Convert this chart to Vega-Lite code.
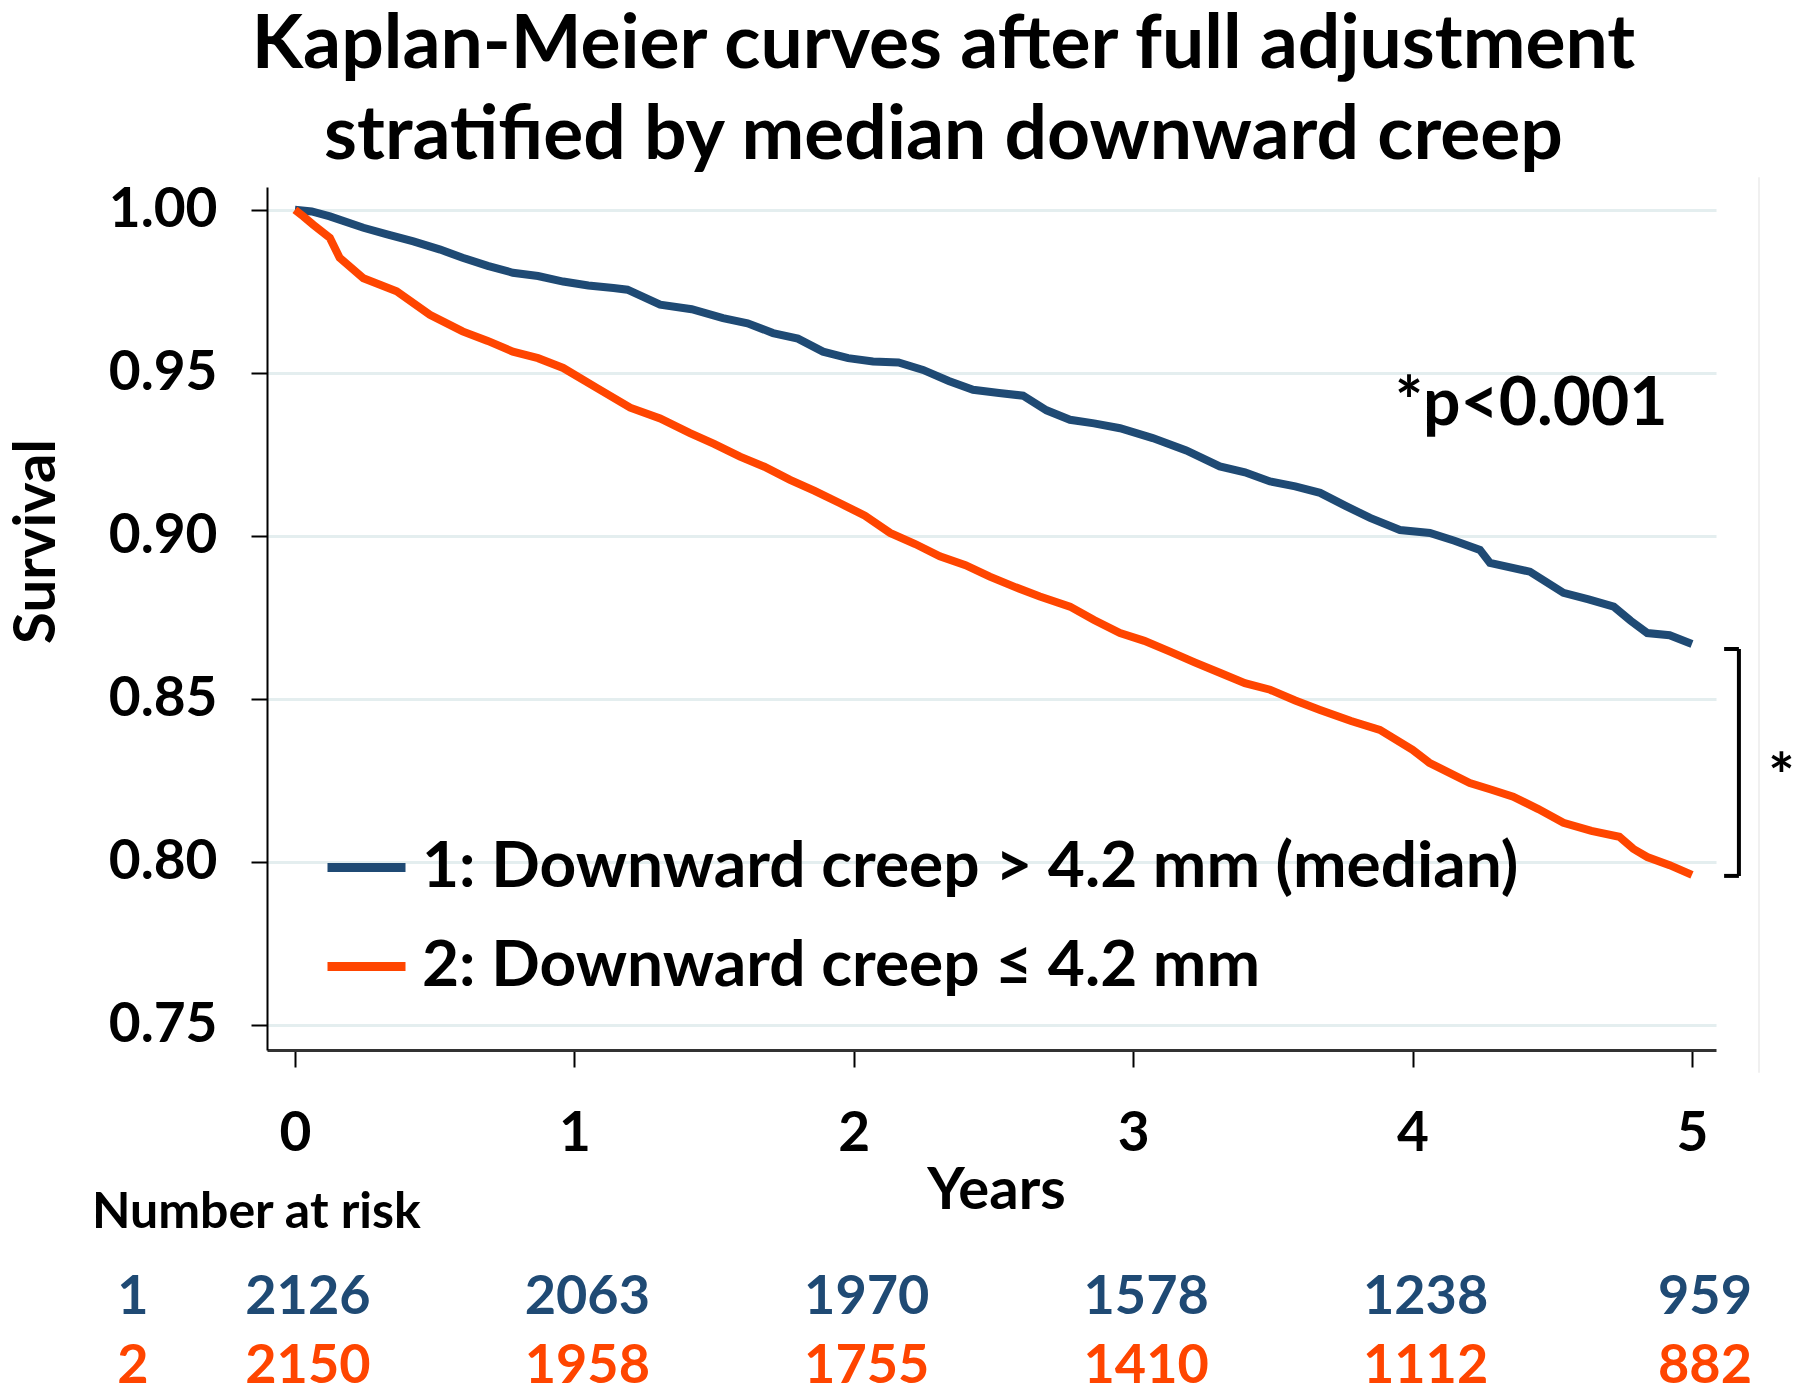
{
  "$schema": "https://vega.github.io/schema/vega-lite/v6.json",
  "width": 1449,
  "height": 863,
  "autosize": {"type": "none"},
  "padding": {"left": 267, "top": 187, "right": 84, "bottom": 348},
  "background": "white",
  "config": {"view": {"stroke": null}, "font": "Lato"},
  "title": {
    "text": ["Kaplan-Meier curves after full adjustment", "stratified by median downward creep"],
    "fontSize": 75, "font": "Lato", "fontWeight": "bold", "color": "black",
    "lineHeight": 91, "anchor": "middle", "dx": -48, "dy": 88, "offset": 14, "baseline": "bottom"
  },
  "datasets": {
    "km": [
      {"Years": 0, "surv": 1.0, "group": "1: Downward creep > 4.2 mm (median)"},
      {"Years": 0.06, "surv": 0.9995, "group": "1: Downward creep > 4.2 mm (median)"},
      {"Years": 0.125, "surv": 0.998, "group": "1: Downward creep > 4.2 mm (median)"},
      {"Years": 0.245, "surv": 0.9945, "group": "1: Downward creep > 4.2 mm (median)"},
      {"Years": 0.33, "surv": 0.9925, "group": "1: Downward creep > 4.2 mm (median)"},
      {"Years": 0.424, "surv": 0.9903, "group": "1: Downward creep > 4.2 mm (median)"},
      {"Years": 0.52, "surv": 0.9878, "group": "1: Downward creep > 4.2 mm (median)"},
      {"Years": 0.6, "surv": 0.9853, "group": "1: Downward creep > 4.2 mm (median)"},
      {"Years": 0.69, "surv": 0.9828, "group": "1: Downward creep > 4.2 mm (median)"},
      {"Years": 0.78, "surv": 0.9807, "group": "1: Downward creep > 4.2 mm (median)"},
      {"Years": 0.87, "surv": 0.9797, "group": "1: Downward creep > 4.2 mm (median)"},
      {"Years": 0.96, "surv": 0.978, "group": "1: Downward creep > 4.2 mm (median)"},
      {"Years": 1.05, "surv": 0.9768, "group": "1: Downward creep > 4.2 mm (median)"},
      {"Years": 1.14, "surv": 0.976, "group": "1: Downward creep > 4.2 mm (median)"},
      {"Years": 1.19, "surv": 0.9755, "group": "1: Downward creep > 4.2 mm (median)"},
      {"Years": 1.307, "surv": 0.9709, "group": "1: Downward creep > 4.2 mm (median)"},
      {"Years": 1.42, "surv": 0.9695, "group": "1: Downward creep > 4.2 mm (median)"},
      {"Years": 1.532, "surv": 0.9668, "group": "1: Downward creep > 4.2 mm (median)"},
      {"Years": 1.62, "surv": 0.9652, "group": "1: Downward creep > 4.2 mm (median)"},
      {"Years": 1.711, "surv": 0.9622, "group": "1: Downward creep > 4.2 mm (median)"},
      {"Years": 1.8, "surv": 0.9605, "group": "1: Downward creep > 4.2 mm (median)"},
      {"Years": 1.89, "surv": 0.9565, "group": "1: Downward creep > 4.2 mm (median)"},
      {"Years": 1.98, "surv": 0.9545, "group": "1: Downward creep > 4.2 mm (median)"},
      {"Years": 2.069, "surv": 0.9535, "group": "1: Downward creep > 4.2 mm (median)"},
      {"Years": 2.16, "surv": 0.9532, "group": "1: Downward creep > 4.2 mm (median)"},
      {"Years": 2.248, "surv": 0.9509, "group": "1: Downward creep > 4.2 mm (median)"},
      {"Years": 2.34, "surv": 0.9475, "group": "1: Downward creep > 4.2 mm (median)"},
      {"Years": 2.427, "surv": 0.9448, "group": "1: Downward creep > 4.2 mm (median)"},
      {"Years": 2.52, "surv": 0.9438, "group": "1: Downward creep > 4.2 mm (median)"},
      {"Years": 2.606, "surv": 0.943, "group": "1: Downward creep > 4.2 mm (median)"},
      {"Years": 2.69, "surv": 0.9385, "group": "1: Downward creep > 4.2 mm (median)"},
      {"Years": 2.774, "surv": 0.9356, "group": "1: Downward creep > 4.2 mm (median)"},
      {"Years": 2.86, "surv": 0.9345, "group": "1: Downward creep > 4.2 mm (median)"},
      {"Years": 2.953, "surv": 0.933, "group": "1: Downward creep > 4.2 mm (median)"},
      {"Years": 3.07, "surv": 0.93, "group": "1: Downward creep > 4.2 mm (median)"},
      {"Years": 3.19, "surv": 0.9262, "group": "1: Downward creep > 4.2 mm (median)"},
      {"Years": 3.31, "surv": 0.9213, "group": "1: Downward creep > 4.2 mm (median)"},
      {"Years": 3.4, "surv": 0.9195, "group": "1: Downward creep > 4.2 mm (median)"},
      {"Years": 3.49, "surv": 0.9167, "group": "1: Downward creep > 4.2 mm (median)"},
      {"Years": 3.58, "surv": 0.9152, "group": "1: Downward creep > 4.2 mm (median)"},
      {"Years": 3.669, "surv": 0.9132, "group": "1: Downward creep > 4.2 mm (median)"},
      {"Years": 3.76, "surv": 0.9092, "group": "1: Downward creep > 4.2 mm (median)"},
      {"Years": 3.848, "surv": 0.9055, "group": "1: Downward creep > 4.2 mm (median)"},
      {"Years": 3.955, "surv": 0.9018, "group": "1: Downward creep > 4.2 mm (median)"},
      {"Years": 4.062, "surv": 0.9009, "group": "1: Downward creep > 4.2 mm (median)"},
      {"Years": 4.15, "surv": 0.8985, "group": "1: Downward creep > 4.2 mm (median)"},
      {"Years": 4.241, "surv": 0.8957, "group": "1: Downward creep > 4.2 mm (median)"},
      {"Years": 4.277, "surv": 0.8917, "group": "1: Downward creep > 4.2 mm (median)"},
      {"Years": 4.42, "surv": 0.889, "group": "1: Downward creep > 4.2 mm (median)"},
      {"Years": 4.54, "surv": 0.8825, "group": "1: Downward creep > 4.2 mm (median)"},
      {"Years": 4.63, "surv": 0.8805, "group": "1: Downward creep > 4.2 mm (median)"},
      {"Years": 4.72, "surv": 0.8783, "group": "1: Downward creep > 4.2 mm (median)"},
      {"Years": 4.78, "surv": 0.874, "group": "1: Downward creep > 4.2 mm (median)"},
      {"Years": 4.84, "surv": 0.8702, "group": "1: Downward creep > 4.2 mm (median)"},
      {"Years": 4.92, "surv": 0.8695, "group": "1: Downward creep > 4.2 mm (median)"},
      {"Years": 5.0, "surv": 0.8668, "group": "1: Downward creep > 4.2 mm (median)"},
      {"Years": 0, "surv": 1.0, "group": "2: Downward creep ≤ 4.2 mm"},
      {"Years": 0.03, "surv": 0.998, "group": "2: Downward creep ≤ 4.2 mm"},
      {"Years": 0.066, "surv": 0.9954, "group": "2: Downward creep ≤ 4.2 mm"},
      {"Years": 0.125, "surv": 0.9914, "group": "2: Downward creep ≤ 4.2 mm"},
      {"Years": 0.16, "surv": 0.9853, "group": "2: Downward creep ≤ 4.2 mm"},
      {"Years": 0.245, "surv": 0.979, "group": "2: Downward creep ≤ 4.2 mm"},
      {"Years": 0.364, "surv": 0.975, "group": "2: Downward creep ≤ 4.2 mm"},
      {"Years": 0.483, "surv": 0.9678, "group": "2: Downward creep ≤ 4.2 mm"},
      {"Years": 0.6, "surv": 0.9627, "group": "2: Downward creep ≤ 4.2 mm"},
      {"Years": 0.69, "surv": 0.9598, "group": "2: Downward creep ≤ 4.2 mm"},
      {"Years": 0.78, "surv": 0.9565, "group": "2: Downward creep ≤ 4.2 mm"},
      {"Years": 0.87, "surv": 0.9545, "group": "2: Downward creep ≤ 4.2 mm"},
      {"Years": 0.96, "surv": 0.9515, "group": "2: Downward creep ≤ 4.2 mm"},
      {"Years": 1.08, "surv": 0.9454, "group": "2: Downward creep ≤ 4.2 mm"},
      {"Years": 1.2, "surv": 0.9393, "group": "2: Downward creep ≤ 4.2 mm"},
      {"Years": 1.307, "surv": 0.936, "group": "2: Downward creep ≤ 4.2 mm"},
      {"Years": 1.414, "surv": 0.9315, "group": "2: Downward creep ≤ 4.2 mm"},
      {"Years": 1.5, "surv": 0.9282, "group": "2: Downward creep ≤ 4.2 mm"},
      {"Years": 1.593, "surv": 0.9243, "group": "2: Downward creep ≤ 4.2 mm"},
      {"Years": 1.68, "surv": 0.9212, "group": "2: Downward creep ≤ 4.2 mm"},
      {"Years": 1.772, "surv": 0.9172, "group": "2: Downward creep ≤ 4.2 mm"},
      {"Years": 1.86, "surv": 0.9138, "group": "2: Downward creep ≤ 4.2 mm"},
      {"Years": 1.951, "surv": 0.91, "group": "2: Downward creep ≤ 4.2 mm"},
      {"Years": 2.04, "surv": 0.9062, "group": "2: Downward creep ≤ 4.2 mm"},
      {"Years": 2.13, "surv": 0.9009, "group": "2: Downward creep ≤ 4.2 mm"},
      {"Years": 2.22, "surv": 0.8975, "group": "2: Downward creep ≤ 4.2 mm"},
      {"Years": 2.308, "surv": 0.8937, "group": "2: Downward creep ≤ 4.2 mm"},
      {"Years": 2.4, "surv": 0.891, "group": "2: Downward creep ≤ 4.2 mm"},
      {"Years": 2.487, "surv": 0.8875, "group": "2: Downward creep ≤ 4.2 mm"},
      {"Years": 2.58, "surv": 0.8842, "group": "2: Downward creep ≤ 4.2 mm"},
      {"Years": 2.666, "surv": 0.8814, "group": "2: Downward creep ≤ 4.2 mm"},
      {"Years": 2.774, "surv": 0.8783, "group": "2: Downward creep ≤ 4.2 mm"},
      {"Years": 2.86, "surv": 0.8742, "group": "2: Downward creep ≤ 4.2 mm"},
      {"Years": 2.953, "surv": 0.8702, "group": "2: Downward creep ≤ 4.2 mm"},
      {"Years": 3.04, "surv": 0.8678, "group": "2: Downward creep ≤ 4.2 mm"},
      {"Years": 3.132, "surv": 0.8645, "group": "2: Downward creep ≤ 4.2 mm"},
      {"Years": 3.22, "surv": 0.8612, "group": "2: Downward creep ≤ 4.2 mm"},
      {"Years": 3.31, "surv": 0.858, "group": "2: Downward creep ≤ 4.2 mm"},
      {"Years": 3.4, "surv": 0.8548, "group": "2: Downward creep ≤ 4.2 mm"},
      {"Years": 3.49, "surv": 0.8528, "group": "2: Downward creep ≤ 4.2 mm"},
      {"Years": 3.58, "surv": 0.8495, "group": "2: Downward creep ≤ 4.2 mm"},
      {"Years": 3.669, "surv": 0.8466, "group": "2: Downward creep ≤ 4.2 mm"},
      {"Years": 3.78, "surv": 0.8432, "group": "2: Downward creep ≤ 4.2 mm"},
      {"Years": 3.883, "surv": 0.8405, "group": "2: Downward creep ≤ 4.2 mm"},
      {"Years": 4.0, "surv": 0.8344, "group": "2: Downward creep ≤ 4.2 mm"},
      {"Years": 4.06, "surv": 0.8304, "group": "2: Downward creep ≤ 4.2 mm"},
      {"Years": 4.205, "surv": 0.8242, "group": "2: Downward creep ≤ 4.2 mm"},
      {"Years": 4.28, "surv": 0.8222, "group": "2: Downward creep ≤ 4.2 mm"},
      {"Years": 4.36, "surv": 0.82, "group": "2: Downward creep ≤ 4.2 mm"},
      {"Years": 4.45, "surv": 0.8162, "group": "2: Downward creep ≤ 4.2 mm"},
      {"Years": 4.54, "surv": 0.812, "group": "2: Downward creep ≤ 4.2 mm"},
      {"Years": 4.64, "surv": 0.8095, "group": "2: Downward creep ≤ 4.2 mm"},
      {"Years": 4.74, "surv": 0.8077, "group": "2: Downward creep ≤ 4.2 mm"},
      {"Years": 4.79, "surv": 0.804, "group": "2: Downward creep ≤ 4.2 mm"},
      {"Years": 4.84, "surv": 0.8015, "group": "2: Downward creep ≤ 4.2 mm"},
      {"Years": 4.92, "surv": 0.799, "group": "2: Downward creep ≤ 4.2 mm"},
      {"Years": 5.0, "surv": 0.796, "group": "2: Downward creep ≤ 4.2 mm"}
    ],
    "risk": [
      {"group": "1", "Years": 0, "n": "2126"},
      {"group": "1", "Years": 1, "n": "2063"},
      {"group": "1", "Years": 2, "n": "1970"},
      {"group": "1", "Years": 3, "n": "1578"},
      {"group": "1", "Years": 4, "n": "1238"},
      {"group": "1", "Years": 5, "n": "959"},
      {"group": "2", "Years": 0, "n": "2150"},
      {"group": "2", "Years": 1, "n": "1958"},
      {"group": "2", "Years": 2, "n": "1755"},
      {"group": "2", "Years": 3, "n": "1410"},
      {"group": "2", "Years": 4, "n": "1112"},
      {"group": "2", "Years": 5, "n": "882"}
    ]
  },
  "layer": [
    {
      "data": {"name": "km"},
      "mark": {"type": "line", "strokeWidth": 8, "clip": false},
      "encoding": {
        "x": {
          "field": "Years", "type": "quantitative", "title": "Years",
          "scale": {"domain": [-0.1, 5.086], "nice": false, "zero": false},
          "axis": {
            "values": [0, 1, 2, 3, 4, 5], "format": "d",
            "labelFont": "Lato", "labelFontSize": 55, "labelFontWeight": "bold", "labelColor": "black",
            "labelPadding": 40, "tickSize": 17, "tickColor": "black", "tickWidth": 2,
            "domainColor": "#333333", "domainWidth": 3, "grid": false,
            "titleFont": "Lato", "titleFontSize": 58, "titleFontWeight": "bold", "titleColor": "black",
            "titleX": 729, "titleY": 158, "titleBaseline": "alphabetic", "titleAlign": "center"
          }
        },
        "y": {
          "field": "surv", "type": "quantitative", "title": "Survival",
          "scale": {"domain": [0.7423, 1.007], "nice": false, "zero": false},
          "axis": {
            "values": [0.75, 0.8, 0.85, 0.9, 0.95, 1.0], "format": ".2f",
            "labelFont": "Lato", "labelFontSize": 55, "labelFontWeight": "bold", "labelColor": "black",
            "labelPadding": 34, "tickSize": 16, "tickColor": "black", "tickWidth": 2,
            "domainColor": "black", "domainWidth": 2,
            "grid": true, "gridColor": "#e4eeef", "gridWidth": 3,
            "titleFont": "Lato", "titleFontSize": 58, "titleFontWeight": "bold", "titleColor": "black",
            "titleAngle": -90, "titleX": -230, "titleY": 354, "titleAlign": "center", "titleBaseline": "middle"
          }
        },
        "color": {
          "field": "group", "type": "nominal",
          "scale": {"domain": ["1: Downward creep > 4.2 mm (median)", "2: Downward creep ≤ 4.2 mm"], "range": ["#1f4a74", "#ff4500"]},
          "legend": {
            "orient": "none", "legendX": 56, "legendY": 637, "title": null,
            "symbolType": "stroke", "symbolSize": 6084, "symbolStrokeWidth": 9,
            "labelFont": "Lato", "labelFontSize": 64, "labelFontWeight": "bold", "labelColor": "black",
            "labelOffset": 12, "rowPadding": 23, "labelLimit": 0, "padding": 0
          }
        }
      }
    },
    {
      "data": {"values": [{}]},
      "mark": {"type": "text", "font": "Lato", "fontSize": 66, "fontWeight": "bold", "color": "black", "align": "left", "baseline": "alphabetic"},
      "encoding": {"x": {"datum": 3.937}, "y": {"datum": 0.934}, "text": {"value": "*p<0.001"}}
    },
    {
      "data": {"values": [{}]},
      "mark": {"type": "rule", "color": "black", "strokeWidth": 4, "clip": false},
      "encoding": {"x": {"datum": 5.168}, "y": {"datum": 0.8653}, "y2": {"datum": 0.7957}}
    },
    {
      "data": {"values": [{}]},
      "mark": {"type": "rule", "color": "black", "strokeWidth": 4, "clip": false},
      "encoding": {"x": {"datum": 5.115}, "x2": {"datum": 5.168}, "y": {"datum": 0.8653}}
    },
    {
      "data": {"values": [{}]},
      "mark": {"type": "rule", "color": "black", "strokeWidth": 4, "clip": false},
      "encoding": {"x": {"datum": 5.115}, "x2": {"datum": 5.168}, "y": {"datum": 0.7957}}
    },
    {
      "data": {"values": [{}]},
      "mark": {"type": "text", "font": "Lato", "fontSize": 62, "fontWeight": "bold", "color": "black", "align": "center", "baseline": "alphabetic"},
      "encoding": {"x": {"datum": 5.32}, "y": {"datum": 0.8195}, "text": {"value": "*"}}
    },
    {
      "data": {"values": [{}]},
      "mark": {"type": "rule", "color": "#f0f0f0", "strokeWidth": 2, "clip": false},
      "encoding": {"x": {"datum": 5.24}, "y": {"datum": 1.01}, "y2": {"datum": 0.7353}}
    },
    {
      "data": {"values": [{}]},
      "mark": {"type": "text", "font": "Lato", "fontSize": 50, "fontWeight": "bold", "color": "black", "align": "left", "baseline": "alphabetic"},
      "encoding": {"x": {"datum": -0.7266}, "y": {"datum": 0.6877}, "text": {"value": "Number at risk"}}
    },
    {
      "data": {"values": [{}]},
      "mark": {"type": "text", "font": "Lato", "fontSize": 54, "fontWeight": "bold", "color": "#1f4a74", "align": "center", "baseline": "alphabetic"},
      "encoding": {"x": {"datum": -0.58}, "y": {"datum": 0.6613}, "text": {"value": "1"}}
    },
    {
      "data": {"values": [{}]},
      "mark": {"type": "text", "font": "Lato", "fontSize": 54, "fontWeight": "bold", "color": "#ff4500", "align": "center", "baseline": "alphabetic"},
      "encoding": {"x": {"datum": -0.58}, "y": {"datum": 0.6402}, "text": {"value": "2"}}
    },
    {
      "data": {"name": "risk"},
      "transform": [{"filter": "datum.group === '1'"}],
      "mark": {"type": "text", "font": "Lato", "fontSize": 54, "fontWeight": "bold", "color": "#1f4a74", "align": "center", "baseline": "alphabetic", "dx": 13},
      "encoding": {"x": {"field": "Years", "type": "quantitative", "title": "Years"}, "y": {"datum": 0.6613}, "text": {"field": "n"}}
    },
    {
      "data": {"name": "risk"},
      "transform": [{"filter": "datum.group === '2'"}],
      "mark": {"type": "text", "font": "Lato", "fontSize": 54, "fontWeight": "bold", "color": "#ff4500", "align": "center", "baseline": "alphabetic", "dx": 13},
      "encoding": {"x": {"field": "Years", "type": "quantitative", "title": "Years"}, "y": {"datum": 0.6402}, "text": {"field": "n"}}
    }
  ]
}
